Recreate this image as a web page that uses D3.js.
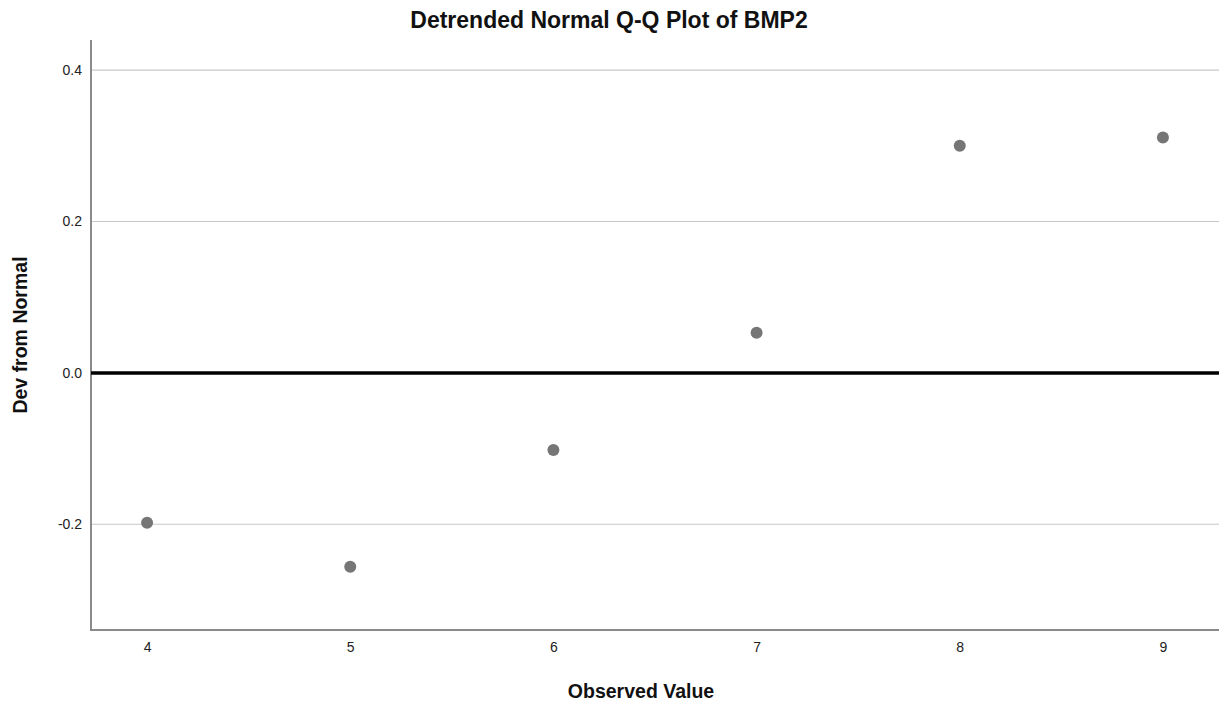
<!DOCTYPE html>
<html><head><meta charset="utf-8">
<script src="https://cdn.jsdelivr.net/npm/d3@7"></script>
<style>body{margin:0;background:#fff}svg{display:block}text{font-family:"Liberation Sans",Arial,sans-serif}</style>
</head><body>
<script>
const observed = [4, 5, 6, 7, 8, 9];
const devFromNormal = [-0.198, -0.256, -0.102, 0.053, 0.300, 0.311];
const xTicks = [4, 5, 6, 7, 8, 9];
const yTicks = [-0.2, 0.0, 0.2, 0.4];
const title = "Detrended Normal Q-Q Plot of BMP2";
const xTitle = "Observed Value";
const yTitle = "Dev from Normal";

const W = 1227, H = 709;
const L = 91, R = 1219, T = 40, B = 630;
const svg = d3.select("body").append("svg").attr("width", W).attr("height", H);
const x = d3.scaleLinear().domain([3.724, 9.276]).range([L, R]);
const y = d3.scaleLinear().domain([-0.3397, 0.4398]).range([B, T]);
const fmtY = d => d3.format(".1f")(d).replace("\u2212", "-");

// gridlines
svg.append("g").selectAll("line").data(yTicks.filter(d => d !== 0)).join("line")
  .attr("x1", L).attr("x2", R).attr("y1", d => y(d)).attr("y2", d => y(d))
  .attr("stroke", "#c8c8c8").attr("stroke-width", 1.2);

// y axis
const ya = svg.append("g").attr("transform", `translate(${L},0)`)
  .call(d3.axisLeft(y).tickValues(yTicks).tickFormat(fmtY).tickSize(0).tickPadding(9));
ya.select(".domain").remove();
ya.selectAll("text").style("font-size", "14px").attr("fill", "#222");

// x axis
const xa = svg.append("g").attr("transform", `translate(0,${B})`)
  .call(d3.axisBottom(x).tickValues(xTicks).tickFormat(d3.format("d")).tickSize(0).tickPadding(12));
xa.select(".domain").remove();
xa.selectAll("text").style("font-size", "14px").attr("fill", "#222");

// axis lines
svg.append("line").attr("x1", L).attr("x2", L).attr("y1", T).attr("y2", B + 1)
  .attr("stroke", "#8a8a8a").attr("stroke-width", 2);
svg.append("line").attr("x1", L).attr("x2", R).attr("y1", B).attr("y2", B)
  .attr("stroke", "#8a8a8a").attr("stroke-width", 2);

// zero line
svg.append("line").attr("x1", L).attr("x2", R).attr("y1", y(0)).attr("y2", y(0))
  .attr("stroke", "#000").attr("stroke-width", 3.5);

// points
svg.append("g").selectAll("circle").data(observed).join("circle")
  .attr("cx", d => x(d)).attr("cy", (d, i) => y(devFromNormal[i])).attr("r", 6)
  .attr("fill", "#767676");

// titles
svg.append("text").attr("x", 609).attr("y", 28).attr("text-anchor", "middle")
  .style("font-size", "23px").attr("font-weight", "bold").attr("fill", "#111").text(title);
svg.append("text").attr("x", 641).attr("y", 698).attr("text-anchor", "middle")
  .style("font-size", "19.5px").attr("font-weight", "bold").attr("fill", "#111").text(xTitle);
svg.append("text").attr("transform", "translate(27,335) rotate(-90)").attr("text-anchor", "middle")
  .style("font-size", "19.5px").attr("font-weight", "bold").attr("fill", "#111").text(yTitle);
</script>
</body></html>
